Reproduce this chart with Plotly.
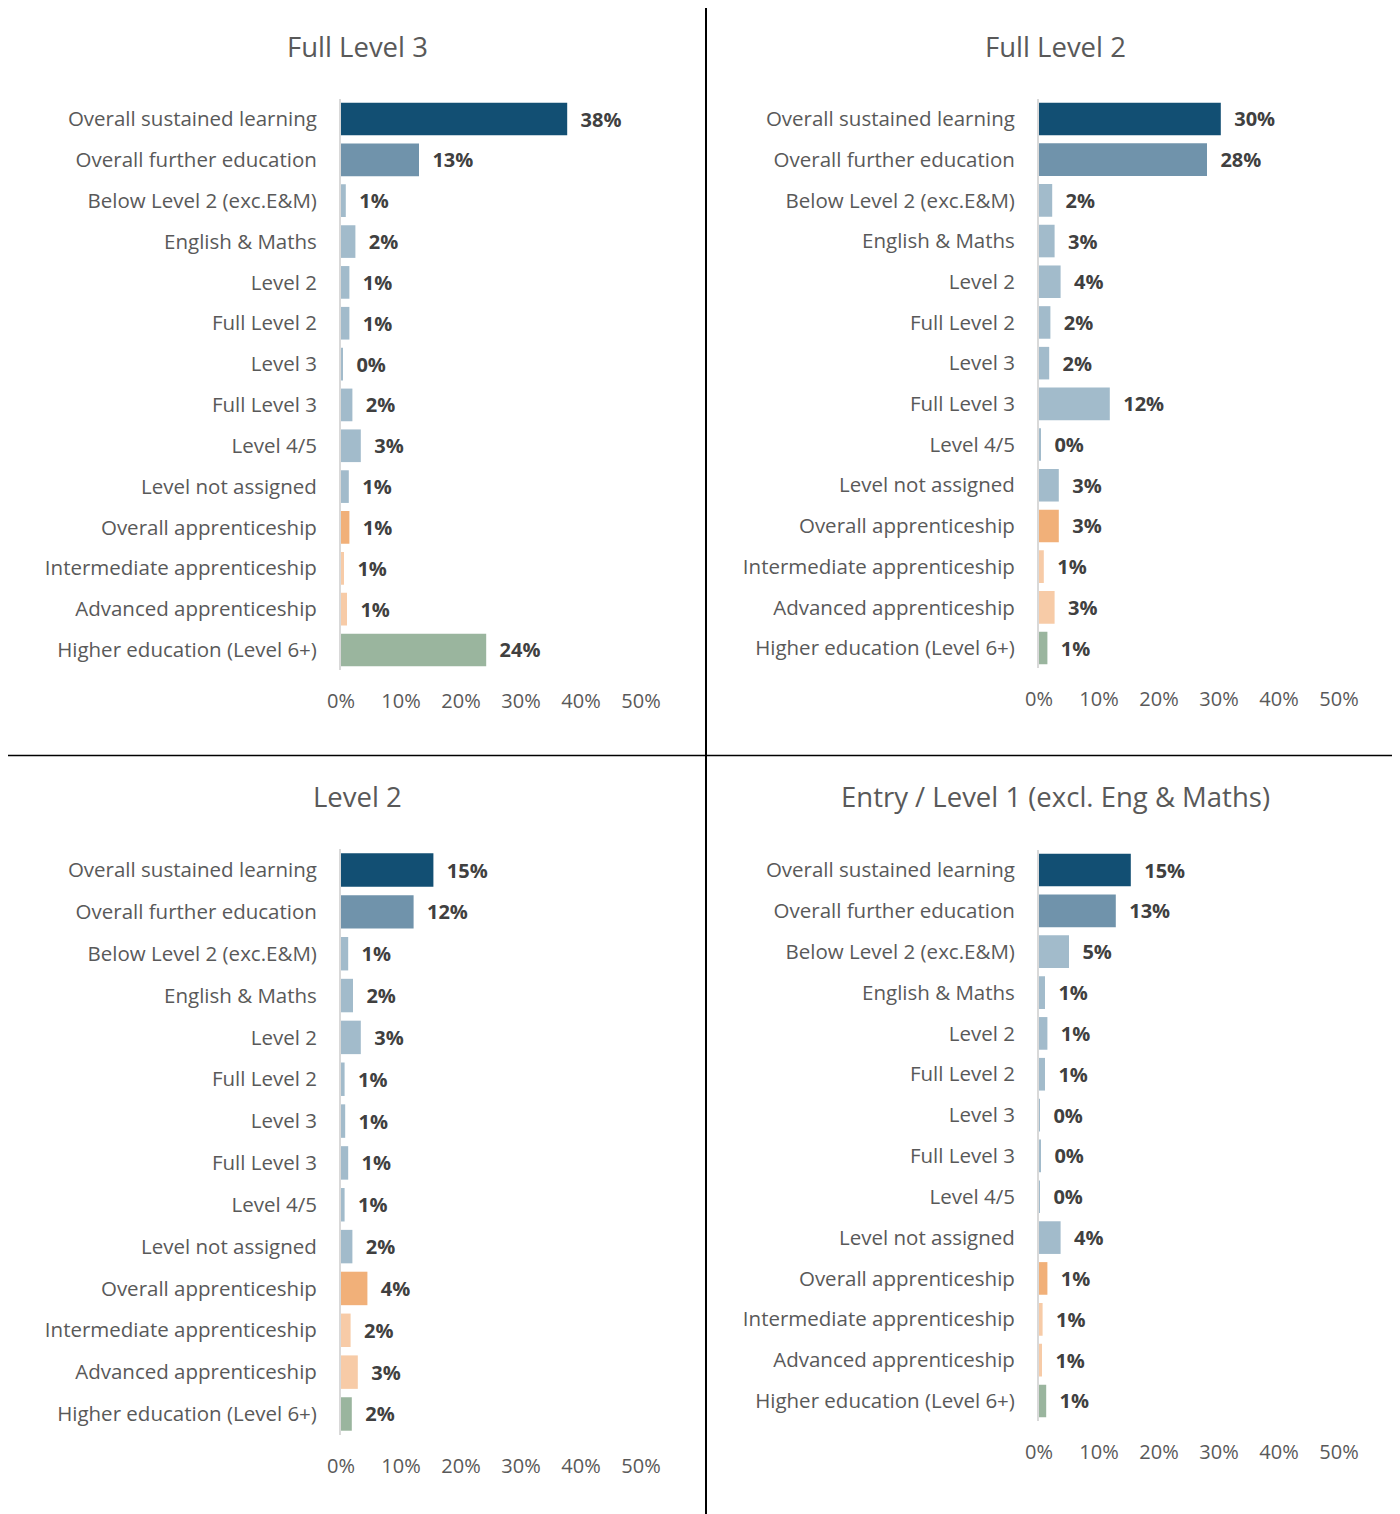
import plotly.graph_objects as go

# Destination categories (top to bottom)
categories = [
    "Overall sustained learning",
    "Overall further education",
    "Below Level 2 (exc.E&M)",
    "English & Maths",
    "Level 2",
    "Full Level 2",
    "Level 3",
    "Full Level 3",
    "Level 4/5",
    "Level not assigned",
    "Overall apprenticeship",
    "Intermediate apprenticeship",
    "Advanced apprenticeship",
    "Higher education (Level 6+)",
]

# Sustained learning rates (%)
full_level_3 = [37.7, 13.0, 0.8, 2.4, 1.4, 1.4, 0.3, 1.9, 3.3, 1.3, 1.4, 0.5, 1.0, 24.2]
full_level_2 = [30.3, 28.0, 2.2, 2.6, 3.6, 1.9, 1.7, 11.8, 0.3, 3.3, 3.3, 0.8, 2.6, 1.4]
level_2 = [15.4, 12.1, 1.2, 2.0, 3.3, 0.6, 0.7, 1.2, 0.6, 1.9, 4.4, 1.6, 2.8, 1.8]
entry_level_1 = [15.3, 12.8, 5.0, 1.0, 1.4, 1.0, 0.1, 0.3, 0.1, 3.6, 1.4, 0.6, 0.5, 1.2]

panel_titles = ["Full Level 3", "Full Level 2", "Level 2", "Entry / Level 1 (excl. Eng & Maths)"]
panel_values = [full_level_3, full_level_2, level_2, entry_level_1]

tick_vals = [0, 10, 20, 30, 40, 50]
tick_text = ["0%", "10%", "20%", "30%", "40%", "50%"]

# bar colours per category
bar_colors = ["#124F73", "#7093AB"] + ["#A2BBCB"] * 8 + ["#F1B079", "#F7CBA7", "#F7CBA7", "#9AB59E"]

W, H = 1400, 1514
OFF = 8  # page body margin shifts everything by 8px
# pixel boxes of each plot area on screen: (x0, x1, top, bottom)
boxes = [
    (341, 641, 98.6, 670.4),
    (1039, 1339, 98.6, 668.4),
    (341, 641, 849.1, 1434.9),
    (1039, 1339, 849.6, 1421.4),
]
title_pos = [(357, 47), (1055, 47), (357, 797), (1055, 797)]


def px(x):
    return (x - OFF) / W


def py(y):
    return 1 - (y - OFF) / H


FONT = "Open Sans"
fig = go.Figure()
layout = {}
annotations = []

for i, (vals, title, box, tpos) in enumerate(zip(panel_values, panel_titles, boxes, title_pos)):
    n = "" if i == 0 else str(i + 1)
    x0, x1, top, bot = box
    fig.add_trace(go.Bar(
        x=vals,
        y=categories,
        orientation="h",
        marker=dict(color=bar_colors, line=dict(width=0)),
        texttemplate="\u00a0\u00a0%{x:.0f}%",
        textposition="outside",
        textfont=dict(family=FONT, size=20, color="#404040", weight="bold"),
        cliponaxis=False,
        constraintext="none",
        xaxis="x" + n,
        yaxis="y" + n,
        showlegend=False,
        hovertemplate="%{y}: %{x:.1f}%<extra></extra>",
    ))
    layout["xaxis" + n] = dict(
        domain=[px(x0), px(x1)],
        range=[0, 50],
        anchor="y" + n,
        automargin=False,
        tickvals=tick_vals,
        ticktext=tick_text,
        showgrid=False,
        zeroline=False,
        showline=False,
        ticks="outside",
        ticklen=13,
        tickcolor="rgba(0,0,0,0)",
        tickfont=dict(family=FONT, size=20, color="#595959"),
        fixedrange=True,
    )
    layout["yaxis" + n] = dict(
        domain=[py(bot), py(top)],
        range=[13.5, -0.5],
        anchor="x" + n,
        automargin=False,
        showgrid=False,
        zeroline=False,
        showline=True,
        linecolor="#D9D9D9",
        linewidth=2,
        ticks="outside",
        ticklen=18,
        tickcolor="rgba(0,0,0,0)",
        tickfont=dict(family=FONT, size=20.5, color="#595959"),
        fixedrange=True,
    )
    annotations.append(dict(
        x=px(tpos[0]), y=py(tpos[1]), xref="paper", yref="paper",
        text=title, showarrow=False, xanchor="center", yanchor="middle",
        font=dict(family=FONT, size=27.5, color="#595959"),
    ))

# table borders between panels
shapes = [
    dict(type="line", xref="paper", yref="paper", x0=px(706), x1=px(706), y0=0, y1=1,
         line=dict(color="black", width=2)),
    dict(type="line", xref="paper", yref="paper", x0=0, x1=1, y0=py(755.5), y1=py(755.5),
         line=dict(color="black", width=1.5)),
]

fig.update_layout(
    width=W,
    height=H,
    margin=dict(l=0, r=0, t=0, b=0, autoexpand=False),
    paper_bgcolor="white",
    plot_bgcolor="white",
    bargap=0.2,
    annotations=annotations,
    shapes=shapes,
    **layout,
)

fig.write_html("out.html")
